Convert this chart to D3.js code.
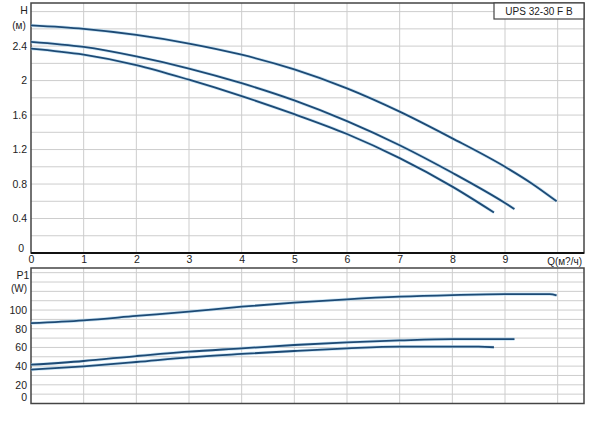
<!DOCTYPE html>
<html><head><meta charset="utf-8">
<script src="https://cdn.jsdelivr.net/npm/d3@7"></script>
<style>body{margin:0;background:#fff}svg{display:block}text{font-family:"Liberation Sans",Arial,sans-serif;fill:#222}</style>
</head><body><svg id="c" width="600" height="437"></svg>
<script>
// ---- data ----
const qTicks = [0,1,2,3,4,5,6,7,8,9];
const hTickLabels = [0,0.4,0.8,1.2,1.6,2,2.4];
const pTickLabels = [0,20,40,60,80,100];
const headA_Q = [0,1,2,3,4,5,6,7,8,9,9.5,9.98];
const headA   = [2.64,2.60,2.53,2.43,2.30,2.13,1.91,1.64,1.33,1.00,0.81,0.60];
const headB_Q = [0,1,2,3,4,5,6,7,8,9,9.18];
const headB   = [2.45,2.39,2.28,2.14,1.97,1.77,1.53,1.25,0.93,0.58,0.51];
const headC_Q = [0,1,2,3,4,5,6,7,8,8.79];
const headC   = [2.37,2.30,2.18,2.01,1.82,1.61,1.38,1.10,0.77,0.47];
const powA_Q = [0,1,2,3,4,5,6,7,8,9,9.85,9.98];
const powA   = [86,89,93.7,98.3,103.6,107.9,111.5,114.3,116,117,117,115.6];
const powB_Q = [0,1,2,3,4,5,6,7,8,9,9.18];
const powB   = [41.5,45.5,50.8,55.5,59,62.6,65.5,67.5,68.8,68.8,68.8];
const powC_Q = [0,1,2,3,4,5,6,7,8,8.5,8.79];
const powC   = [36.2,39.8,44.4,49.4,53,56.2,59,60.8,60.8,60.8,60.2];
const legendText = "UPS 32-30 F B";

const svg = d3.select("#c");
const x = d3.scaleLinear().domain([0,10.5]).range([31,584]);
const yH = d3.scaleLinear().domain([0,2.9]).range([253,3]);
const yP = d3.scaleLinear().domain([0,145]).range([403.5,268]);
const grid = "#cdcdcd", curveCol = "#1d4a75";

function panel(y, hStep, hMax){
  const g = svg.append("g");
  g.selectAll(null).data(d3.range(hStep, hMax+1e-9, hStep)).join("line")
    .attr("x1", x(0)).attr("x2", x(10.5)).attr("y1", d=>y(d)).attr("y2", d=>y(d))
    .attr("stroke", grid).attr("stroke-width",1);
  g.selectAll(null).data(qTicks.slice(1).concat([10])).join("line")
    .attr("x1", d=>x(d)).attr("x2", d=>x(d)).attr("y1", y.range()[0]).attr("y2", y.range()[1])
    .attr("stroke", grid).attr("stroke-width",1);
  g.append("rect").attr("x", x(0)).attr("y", y.range()[1])
    .attr("width", x(10.5)-x(0)).attr("height", y.range()[0]-y.range()[1])
    .attr("fill","none").attr("stroke","#444").attr("stroke-width",1.5);
  return g;
}
const gTop = panel(yH, 0.2, 2.9);
const gBot = panel(yP, 10, 145);
gTop.append("line").attr("x1",x(0)).attr("x2",x(10.5)).attr("y1",yH(0)).attr("y2",yH(0)).attr("stroke","#111").attr("stroke-width",2);

const fmt = d=>String(d);
const axL = d3.axisLeft(yH).tickValues(hTickLabels).tickSize(0).tickPadding(4).tickFormat(fmt);
svg.append("g").attr("transform",`translate(${x(0)},0)`).call(axL)
  .call(s=>{s.select(".domain").remove();s.selectAll("text").attr("font-size",10.5).attr("fill","#222");
    s.selectAll("text").filter(d=>d===0).attr("dy","-0.1em").attr("dx","-3");});
const axP = d3.axisLeft(yP).tickValues(pTickLabels).tickSize(0).tickPadding(4).tickFormat(fmt);
svg.append("g").attr("transform",`translate(${x(0)},0)`).call(axP)
  .call(s=>{s.select(".domain").remove();s.selectAll("text").attr("font-size",10.5).attr("fill","#222");
    s.selectAll("text").filter(d=>d===0).attr("dy","-0.25em");});
const axB = d3.axisBottom(x).tickValues(qTicks).tickSize(0).tickPadding(3).tickFormat(fmt);
svg.append("g").attr("transform",`translate(0,${yH(0)})`).call(axB)
  .call(s=>{s.select(".domain").remove();s.selectAll("text").attr("font-size",10.5).attr("fill","#222");});

svg.append("text").attr("x",24).attr("y",14).attr("text-anchor","middle").attr("font-size",10.5).text("H");
svg.append("text").attr("x",19).attr("y",29).attr("text-anchor","middle").attr("font-size",10).text("(м)");
svg.append("text").attr("x",23).attr("y",279).attr("text-anchor","middle").attr("font-size",10.5).text("P1");
svg.append("text").attr("x",19).attr("y",292).attr("text-anchor","middle").attr("font-size",10).text("(W)");
svg.append("text").attr("x",582).attr("y",265).attr("text-anchor","end").attr("font-size",10).text("Q(м?/ч)");

svg.append("rect").attr("x",494).attr("y",3).attr("width",90).attr("height",16)
  .attr("fill","#fff").attr("stroke","#444").attr("stroke-width",1.2);
svg.append("text").attr("x",539).attr("y",15).attr("text-anchor","middle").attr("font-size",10).text(legendText);

function draw(y, qs, vs){
  const data = qs.map((q,i)=>[q,vs[i]]);
  const line = d3.line().x(d=>x(d[0])).y(d=>y(d[1])).curve(d3.curveMonotoneX);
  svg.append("path").attr("d", line(data)).attr("fill","none").attr("stroke","#a9d3ef").attr("stroke-width",3.2).attr("opacity",0.6);
  svg.append("path").attr("d", line(data)).attr("fill","none").attr("stroke",curveCol).attr("stroke-width",1.8);
}
draw(yH, headA_Q, headA); draw(yH, headB_Q, headB); draw(yH, headC_Q, headC);
draw(yP, powA_Q, powA); draw(yP, powB_Q, powB); draw(yP, powC_Q, powC);
</script></body></html>
